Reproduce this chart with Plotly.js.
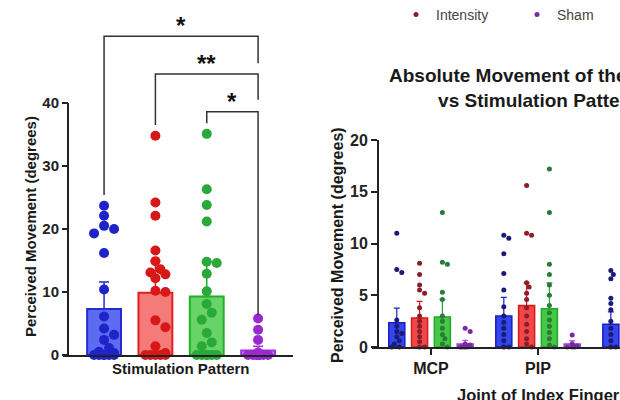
<!DOCTYPE html>
<html><head><meta charset="utf-8">
<script src="https://cdn.plot.ly/plotly-3.0.1.min.js"></script>
<style>html,body{margin:0;padding:0;background:#fff}#chart{width:620px;height:400px}</style>
</head><body><div id="chart"></div>
<script>
// ---------------- DATA ----------------
// Left panel: perceived movement per stimulation pattern (all joints)
const patterns = ['Frequency', 'Intensity', 'Timing', 'Sham'];
const leftMeans = [7.3, 9.9, 9.3, 0.7];
const leftErrUp = [4.3, 5.0, 5.5, 0.7];
const leftPtsFreq = [23.7, 22.1, 20.5, 20.0, 19.3, 16.2, 10.4, 6.1, 4.2, 3.2, 2.4, 1.1, 0.5, 0.3, 0, 0, 0, 0, 0, 0];
const leftPtsInt = [34.8, 24.2, 22.1, 16.6, 14.9, 13.6, 13.1, 12.8, 12.2, 10.2, 10.0, 5.5, 4.4, 1.4, 0.3, 0, 0, 0, 0, 0];
const leftPtsTim = [35.1, 26.3, 23.8, 21.2, 14.8, 14.6, 12.9, 10.1, 8.1, 6.7, 5.6, 3.5, 2.0, 1.4, 0, 0, 0, 0, 0, 0];
const leftPtsSham = [5.8, 4.0, 2.4, 0.4, 0, 0, 0, 0, 0, 0, 0, 0, 0, 0, 0, 0, 0, 0, 0, 0];
const leftTicks = [0, 10, 20, 30, 40];
// significance comparisons: [from index, to index, label]
const compFrom = [0, 1, 2];
const compTo = [3, 3, 3];
const compLabel = ['*', '**', '*'];

// Right panel: per joint
const joints = ['MCP', 'PIP', 'DIP'];
const rightMeanFreq = [2.35, 3.0, 2.2];
const rightMeanInt = [2.8, 4.0, null];
const rightMeanTim = [2.9, 3.7, null];
const rightMeanSham = [0.3, 0.3, null];
const rightErrFreq = [1.4, 1.8, 1.2];
const rightErrInt = [1.6, 2.2, null];
const rightErrTim = [1.7, 2.5, null];
const rightErrSham = [0.35, 0.3, null];
const rightPtsFreq = [[11.0, 7.5, 7.2, 2.6, 2.0, 1.5, 1.3, 1.0, 0.6, 0.3, 0, 0],
                      [10.8, 10.5, 9.0, 7.1, 5.5, 3.9, 3.0, 2.4, 1.8, 1.2, 0.6, 0, 0],
                      [7.4, 7.0, 6.6, 4.7, 4.2, 3.6, 2.5, 1.8, 1.2, 0.6, 0, 0]];
const rightPtsInt = [[8.1, 7.0, 6.0, 5.5, 5.2, 3.8, 3.0, 2.5, 2.0, 1.5, 1.0, 0.5, 0, 0],
                     [15.6, 11.0, 10.8, 6.2, 5.8, 5.2, 4.6, 3.8, 3.0, 2.2, 1.5, 0.8, 0.3, 0],
                     []];
const rightPtsTim = [[13.0, 8.2, 8.0, 5.3, 4.6, 3.0, 2.5, 1.8, 1.2, 0.8, 0.3, 0],
                     [17.2, 13.0, 8.0, 7.0, 6.0, 5.0, 4.0, 3.3, 2.6, 2.0, 1.4, 0.8, 0.2, 0],
                     []];
const rightPtsSham = [[1.8, 1.5, 0.3, 0.2, 0, 0, 0, 0],
                      [1.15, 0.3, 0.1, 0, 0, 0],
                      []];
const rightTicks = [0, 5, 10, 15, 20];

// ---------------- STYLE / LAYOUT CONSTANTS ----------------
const W = 620, H = 400;
const FONT = 'Liberation Sans, Arial, Helvetica, sans-serif';
const leftFill = ['#5b6cf0', '#f57a7a', '#68d468', '#c77cf0'];
const leftEdge = ['#2a2ad0', '#e02020', '#22b02a', '#a030e0'];
const leftDot = ['#1f24c8', '#d81818', '#2aa83a', '#9a2ad0'];
const rightFill = ['#3347ea', '#f04848', '#45c845', '#c070ec'];
const rightEdge = ['#1c1cc8', '#d81a1a', '#22a82a', '#a040e0'];
const rightDot = ['#1a1a78', '#8a1e2a', '#2a7a38', '#7a2aa0'];

// left plot geometry (pixels)
const LX0 = 63, LX1 = 293, LYTOP = 0, LYBOT = 355, LYAXIS = 68;
const LXR = [-0.8, 3.68], LYR = [0, 56.35];
// right plot geometry
const RX0 = 372, RX1 = 620, RYTOP = 140, RYBOT = 347, RYAXIS = 378;
const RXR = [-0.551, 1.766], RYR = [0, 20];
const RSTEP = 0.213, RBW = 0.15;

function swarm(values, center, pxX, pxY, diam, maxHalf) {
  const idx = values.map((v, i) => i).sort((a, b) => values[b] - values[a]);
  const placed = [], xs = new Array(values.length);
  const step = diam / 2;
  const cands = [0];
  for (let k = 1; k * step <= maxHalf; k++) { cands.push(k * step, -k * step); }
  for (const i of idx) {
    const yv = values[i] * pxY;
    let best = null, bestD = -1;
    for (const off of cands) {
      let md = Infinity;
      for (const p of placed) md = Math.min(md, Math.hypot(p.x - off, p.y - yv));
      if (md >= diam * 0.95) { best = off; break; }
      if (md > bestD) { bestD = md; best = off; }
    }
    placed.push({x: best, y: yv});
    xs[i] = center + best / pxX;
  }
  return xs;
}

const lpxX = (LX1 - LX0) / (LXR[1] - LXR[0]);
const lpxY = (LYBOT - LYTOP) / (LYR[1] - LYR[0]);
const rpxX = (RX1 - RX0) / (RXR[1] - RXR[0]);
const rpxY = (RYBOT - RYTOP) / (RYR[1] - RYR[0]);

const traces = [];
const leftPts = [leftPtsFreq, leftPtsInt, leftPtsTim, leftPtsSham];
patterns.forEach((p, i) => {
  traces.push({type: 'bar', x: [i], y: [leftMeans[i]], width: 0.66, xaxis: 'x', yaxis: 'y',
    marker: {color: leftFill[i], line: {color: leftEdge[i], width: 2}},
    error_y: {type: 'data', array: [leftErrUp[i]], arrayminus: [0], symmetric: false,
      color: leftEdge[i], thickness: 1.5, width: 5},
    showlegend: false, hoverinfo: 'skip'});
});
patterns.forEach((p, i) => {
  traces.push({type: 'scatter', mode: 'markers', x: swarm(leftPts[i], i, lpxX, lpxY, 10, 14),
    y: leftPts[i], xaxis: 'x', yaxis: 'y', cliponaxis: false,
    marker: {size: 10, color: leftDot[i]}, showlegend: false, hoverinfo: 'skip'});
});

const rMeans = [rightMeanFreq, rightMeanInt, rightMeanTim, rightMeanSham];
const rErrs = [rightErrFreq, rightErrInt, rightErrTim, rightErrSham];
const rPts = [rightPtsFreq, rightPtsInt, rightPtsTim, rightPtsSham];
patterns.forEach((p, k) => {
  const xs = joints.map((j, g) => g + (k - 1.5) * RSTEP);
  traces.push({type: 'bar', x: xs, y: rMeans[k], width: RBW, xaxis: 'x2', yaxis: 'y2',
    marker: {color: rightFill[k], line: {color: rightEdge[k], width: 1.5}},
    error_y: {type: 'data', array: rErrs[k], arrayminus: rErrs[k].map(() => 0), symmetric: false,
      color: rightEdge[k], thickness: 1.2, width: 3},
    showlegend: false, hoverinfo: 'skip'});
});
patterns.forEach((p, k) => {
  let xs = [], ys = [];
  rPts[k].forEach((vals, g) => {
    xs = xs.concat(swarm(vals, g + (k - 1.5) * RSTEP, rpxX, rpxY, 5, 5));
    ys = ys.concat(vals);
  });
  traces.push({type: 'scatter', mode: 'markers', x: xs, y: ys, xaxis: 'x2', yaxis: 'y2',
    cliponaxis: false, name: p,
    marker: {size: 5, color: rightDot[k]},
    showlegend: (p === 'Intensity' || p === 'Sham'), hoverinfo: 'skip'});
});

// significance brackets (data units of left y axis)
const brTop = [50.6, 44.6, 38.6];
const brLeftEnd = [25.4, 36.5, 36.8];
const brRightEnd = [46.3, 40.5, 6.3];
const shapes = [
  {type: 'line', xref: 'paper', yref: 'y', x0: LYAXIS / W, x1: LYAXIS / W, y0: 0, y1: 40,
   line: {color: '#222', width: 2}}
];
const annotations = [];
compFrom.forEach((a, i) => {
  const b = compTo[i];
  shapes.push({type: 'path', xref: 'x', yref: 'y',
    path: `M ${a} ${brLeftEnd[i]} L ${a} ${brTop[i]} L ${b} ${brTop[i]} L ${b} ${brRightEnd[i]}`,
    line: {color: '#333', width: 1.5}});
  annotations.push({xref: 'x', yref: 'y', x: (a + b) / 2, y: brTop[i], xanchor: 'center', yanchor: 'bottom',
    text: compLabel[i], showarrow: false, yshift: -5,
    font: {family: FONT, size: 24, weight: 'bold', color: '#111'}});
});
const tfont = (s) => ({family: FONT, size: s, weight: 'bold', color: '#1a1a1a'});
const pa = (x, y, text, size, angle) => ({xref: 'paper', yref: 'paper', x: x / W, y: 1 - y / H,
  xanchor: 'center', yanchor: 'middle', text: text, textangle: angle || 0, showarrow: false, font: tfont(size)});
annotations.push(
  pa(30, 227, 'Perceived Movement (degrees)', 15, -90),
  pa(181, 368, 'Stimulation Pattern', 15),
  pa(337, 245, 'Perceived Movement (degrees)', 16, -90),
  pa(538, 395, 'Joint of Index Finger', 16.5),
  pa(538, 88, 'Absolute Movement of the Joints<br>vs Stimulation Pattern', 19)
);

const layout = {
  width: W, height: H, autosize: false,
  margin: {l: 0, r: 0, t: 0, b: 0, pad: 0, autoexpand: false},
  paper_bgcolor: '#fff', plot_bgcolor: 'rgba(0,0,0,0)',
  font: {family: FONT, color: '#1a1a1a'},
  xaxis: {domain: [LX0 / W, LX1 / W], range: LXR, anchor: 'y', showline: true, linewidth: 2,
    linecolor: '#222', showticklabels: false, ticks: '', showgrid: false, zeroline: false, fixedrange: true},
  yaxis: {domain: [1 - LYBOT / H, 1 - LYTOP / H], range: LYR, anchor: 'free', position: LYAXIS / W,
    showline: false, tickvals: leftTicks, ticks: 'outside', ticklen: 6, tickwidth: 2, tickcolor: '#222',
    tickfont: {family: FONT, size: 15, weight: 'bold', color: '#222'}, showgrid: false, zeroline: false,
    automargin: false},
  xaxis2: {domain: [RX0 / W, RX1 / W], range: RXR, anchor: 'y2', showline: true, linewidth: 2,
    linecolor: '#222', tickvals: joints.map((j, g) => g), ticktext: joints, ticks: 'outside',
    ticklen: 6, tickwidth: 2, tickcolor: '#222',
    tickfont: {family: FONT, size: 16, weight: 'bold', color: '#1a1a1a'}, showgrid: false, zeroline: false,
    automargin: false},
  yaxis2: {domain: [1 - RYBOT / H, 1 - RYTOP / H], range: RYR, anchor: 'free', position: RYAXIS / W,
    showline: true, linewidth: 2, linecolor: '#222', tickvals: rightTicks, ticks: 'outside', ticklen: 6,
    tickwidth: 2, tickcolor: '#222', tickfont: {family: FONT, size: 16, weight: 'bold', color: '#222'},
    showgrid: false, zeroline: false, automargin: false},
  showlegend: true,
  legend: {orientation: 'h', x: 396 / W, xanchor: 'left', y: 1 - 15 / H, yanchor: 'middle',
    font: {family: FONT, size: 14, color: '#444'}, entrywidth: 76, entrywidthmode: 'pixels',
    bgcolor: 'rgba(0,0,0,0)', borderwidth: 0, traceorder: 'normal'},
  shapes: shapes, annotations: annotations
};
Plotly.newPlot('chart', traces, layout, {staticPlot: true, displayModeBar: false});
</script></body></html>
